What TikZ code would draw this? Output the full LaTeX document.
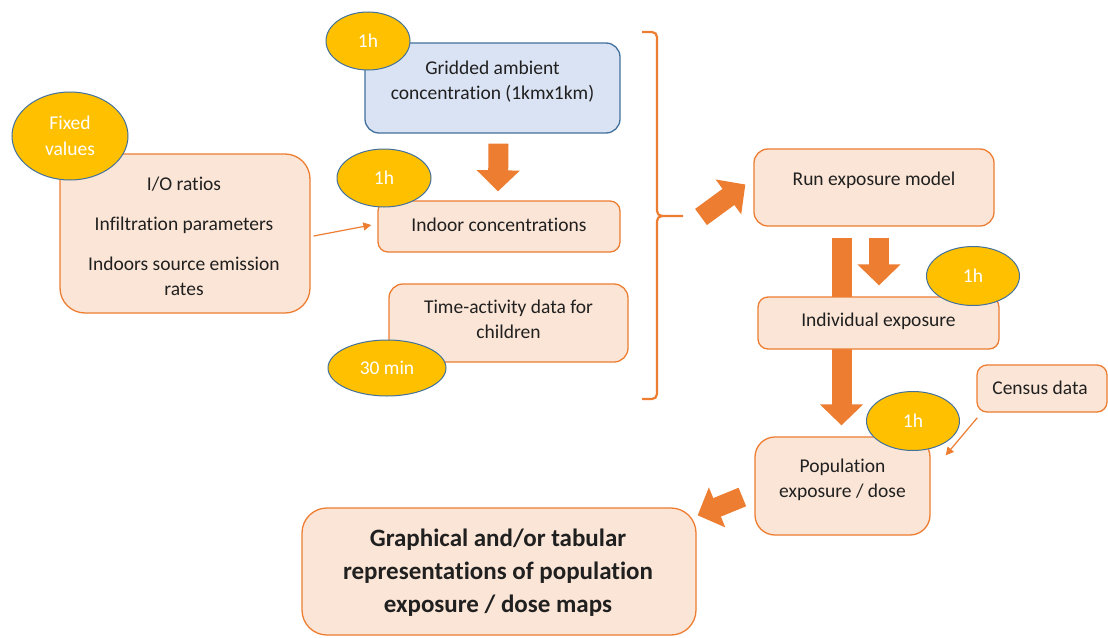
\documentclass[tikz,border=0pt]{standalone}
\usepackage{fontspec}
\setmainfont{Carlito}[Ligatures=NoCommon]
\usetikzlibrary{arrows.meta,shapes.geometric,calc}
\definecolor{acc}{HTML}{ED7D31}
\definecolor{pale}{HTML}{FBE5D6}
\definecolor{bluefill}{HTML}{DAE3F3}
\definecolor{blueline}{HTML}{41719C}
\definecolor{gold}{HTML}{FFC000}
\definecolor{ink}{HTML}{202020}
\pgfdeclarelayer{paper}
\pgfdeclarelayer{under}
\pgfsetlayers{paper,under,main}

\begin{document}
\begin{tikzpicture}[x=1pt,y=-1pt,
  box/.style={draw=acc, fill=pale, line width=1.3pt, rounded corners=14pt, inner sep=0pt},
  txt/.style={text=ink, align=center, inner sep=0pt, font=\fontsize{19.5}{25}\selectfont},
  bigtxt/.style={text=ink, align=center, inner sep=0pt, font=\fontsize{25}{33}\selectfont\bfseries},
  tag/.style={ellipse, draw=blueline, fill=gold, line width=1pt, text=white, inner sep=0pt,
              align=center, font=\fontsize{19.5}{26}\selectfont},
  block/.style={draw=acc, line width=20pt, -{Triangle[length=21pt,width=42pt]}},
  thinarrow/.style={draw=acc, line width=1.2pt, -{Triangle[length=8pt,width=8pt]}}]
\useasboundingbox (0,0) rectangle (1108,637);
\clip (0,0) rectangle (1108,637);
\begin{pgfonlayer}{paper}
  \fill[white] (0,0) rectangle (1108,637);
\end{pgfonlayer}

% process boxes
\node[box, rounded corners=25pt, minimum width=250pt, minimum height=159pt] (fixed) at (185,233.5) {};
\node[box, draw=blueline, fill=bluefill, minimum width=255pt, minimum height=90pt] (grid) at (492.5,88) {};
\node[box, rounded corners=10pt, minimum width=242pt, minimum height=51pt] (indoor) at (499,226.5) {};
\node[box, minimum width=239pt, minimum height=78pt] (time) at (508.5,323) {};
\node[box, minimum width=240pt, minimum height=77pt] (run) at (874,187.5) {};
\node[box, rounded corners=10pt, minimum width=241pt, minimum height=52pt] (indiv) at (878.5,323) {};
\node[box, rounded corners=10pt, minimum width=130pt, minimum height=47pt] (census) at (1042,388.5) {};
\node[box, rounded corners=20pt, minimum width=175pt, minimum height=98pt] (pop) at (842.5,486) {};
\node[box, rounded corners=25pt, minimum width=394pt, minimum height=127pt] (final) at (499,571.5) {};

% box texts
\node[txt] (fixedtext) at ($(fixed.center)+(-1,2.5)$)
  {I/O ratios\\[15pt]Infiltration parameters\\[15pt]Indoors source emission\\rates};
\node[txt] (gridtext) at ($(grid.center)+(0,-6)$) {Gridded ambient\\concentration (1kmx1km)};
\node[txt] (indoortext) at ($(indoor.center)+(0,-2)$) {Indoor concentrations};
\node[txt] (timetext) at ($(time.center)+(0,-3.5)$) {Time-activity data for\\children};
\node[txt] (runtext) at ($(run.center)+(0,-7)$) {Run exposure model};
\node[txt] (indivtext) at ($(indiv.center)+(0,-2)$) {Individual exposure};
\node[txt] (censustext) at ($(census.center)+(-2,-1)$) {Census data};
\node[txt] (poptext) at ($(pop.center)+(0,-6.5)$) {Population\\exposure / dose};
\node[bigtxt] (finaltext) at ($(final.center)+(-1,1)$)
  {Graphical and/or tabular\\representations of population\\exposure / dose maps};

% time-step tags
\node[tag, minimum width=116pt, minimum height=88pt] (tfixed) at (70,136) {Fixed\\values};
\node[tag, minimum width=84pt, minimum height=58pt] (tgrid) at (368,41) {1h};
\node[tag, minimum width=94pt, minimum height=58pt] (tindoor) at (384,178) {1h};
\node[tag, minimum width=118pt, minimum height=56pt] (ttime) at (387,368) {30 min};
\node[tag, minimum width=93pt, minimum height=59pt] (tindiv) at (973,276) {1h};
\node[tag, minimum width=93pt, minimum height=59pt] (tpop) at (913,421) {1h};

% right brace grouping the inputs, and block arrows (behind the boxes)
\coordinate (bt) at (683,216);
\begin{pgfonlayer}{under}
\draw[acc, line width=2.2pt]
  (642,32) -- (652,32) to[out=0,in=90] (657,37) -- (657,211) to[out=-90,in=180] (662,216) -- (bt)
  (662,216) to[out=180,in=90] (657,221) -- (657,394) to[out=-90,in=0] (652,399) -- (642,399);
\draw[block] ($(grid.south)+(6,10)$) -- ($(indoor.north)+(-1,-9)$);
\draw[block] ($(bt)+(18,1)$) -- ($(run.west)+(-8,-3)$);
\draw[block] ($(run.south)+(-32.5,11)$) -- ($(pop.north)+(-1,-11)$);
\draw[block] ($(run.south)+(5,11)$) -- ($(indiv.north)+(0.5,-11)$);
\draw[block] ($(pop.west)+(-12,11)$) -- ($(final.north east)+(1,8)$);
\end{pgfonlayer}

% thin arrows
\draw[thinarrow] ($(fixed.east)+(3,2.5)$) -- ($(indoor.west)+(-6,-1.5)$);
\draw[thinarrow] ($(census.south west)+(1,5)$) -- ($(pop.north east)+(15,19)$);
\end{tikzpicture}
\end{document}
